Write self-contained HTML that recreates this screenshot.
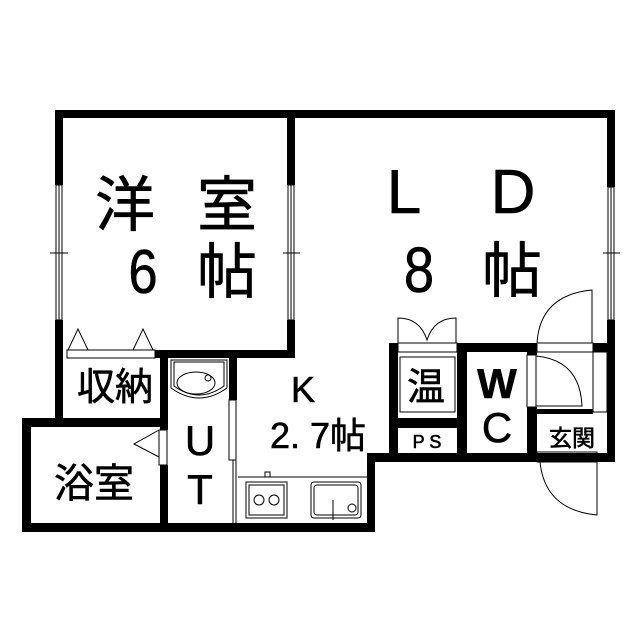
<!DOCTYPE html>
<html><head><meta charset="utf-8"><style>
html,body{margin:0;padding:0;background:#fff}
svg{display:block}
text{font-family:"Liberation Sans","Noto Sans CJK JP",sans-serif;fill:#000;stroke:#000;stroke-width:0.6}
</style></head><body>
<svg width="640" height="640" viewBox="0 0 640 640" xmlns="http://www.w3.org/2000/svg">
<rect width="640" height="640" fill="#fff"/>
<g fill="#000">
<rect x="55" y="110" width="560" height="8"/>
<rect x="55" y="110" width="8" height="75"/>
<rect x="55" y="320" width="8" height="106"/>
<rect x="287" y="110" width="8" height="75"/>
<rect x="287" y="320" width="8" height="38"/>
<rect x="155" y="350" width="140" height="8"/>
<rect x="229" y="350" width="8" height="50"/>
<rect x="160" y="350" width="8" height="80"/>
<rect x="160" y="465" width="8" height="60"/>
<rect x="22" y="418" width="146" height="9"/>
<rect x="22" y="418" width="9" height="114"/>
<rect x="22" y="523" width="353" height="9"/>
<rect x="367" y="453" width="8" height="79"/>
<rect x="367" y="453" width="248" height="9"/>
<rect x="607" y="110" width="8" height="77"/>
<rect x="607" y="320" width="8" height="142"/>
<rect x="389" y="343" width="9" height="9"/>
<rect x="457" y="343" width="80" height="9"/>
<rect x="593" y="343" width="22" height="9"/>
<rect x="389" y="343" width="9" height="119"/>
<rect x="397" y="418" width="65" height="10"/>
<rect x="457" y="343" width="10" height="119"/>
<rect x="527" y="343" width="10" height="12"/>
<rect x="527" y="407" width="10" height="55"/>
<rect x="537" y="409" width="56" height="5"/>
</g>
<g fill="none" stroke="#000" stroke-width="1">
<rect x="56" y="185" width="6" height="135"/><line x1="59" y1="185" x2="59" y2="320"/><line x1="50" y1="253" x2="68" y2="253"/>
<rect x="288" y="185" width="6" height="135"/><line x1="291" y1="185" x2="291" y2="320"/><line x1="283" y1="253" x2="300" y2="253"/>
<rect x="608" y="187" width="6" height="133"/><line x1="611" y1="187" x2="611" y2="320"/><line x1="603" y1="253" x2="620" y2="253"/>
<rect x="67" y="350" width="88" height="8"/>
<path d="M68 350 L78 329 L88 350 M133 350 L143 329 L153 350"/>
<path d="M171 360 H227 V388 Q199 408 171 388 Z"/>
<path d="M174 362 H224 V386 Q199 404 174 386 Z"/>
<ellipse cx="196" cy="383" rx="19" ry="11"/><circle cx="208" cy="378" r="3"/>
<rect x="229" y="400" width="7" height="60"/>
<line x1="233" y1="460" x2="233" y2="523"/><line x1="236" y1="460" x2="236" y2="523"/>
<rect x="159" y="430" width="8" height="35"/>
<path d="M159 430 L134 444 L159 457"/>
<line x1="238" y1="477" x2="367" y2="477"/>
<rect x="265" y="472" width="5" height="5"/>
<rect x="246" y="482" width="41" height="36"/><rect x="249" y="485" width="35" height="30"/>
<circle cx="259" cy="500" r="5"/><circle cx="274" cy="500" r="5"/>
<rect x="311" y="482" width="50" height="36" rx="3"/><rect x="314" y="485" width="44" height="30" rx="3"/>
<circle cx="352" cy="508" r="4"/><line x1="333" y1="500" x2="333" y2="520"/>
<rect x="398" y="343" width="59" height="9"/>
<path d="M398 343 V318 Q420 318 427 340 Q434 318 456 318 V343"/>
<rect x="400" y="357" width="55" height="55"/>
<rect x="537" y="343" width="56" height="9"/>
<path d="M592 343 V290 Q540 295 537 343"/>
<rect x="593" y="352" width="14" height="60"/>
<rect x="527" y="355" width="9" height="52"/>
<path d="M536 356 Q580 360 582 406 H536"/>
<rect x="537" y="452" width="60" height="10"/>
<path d="M597 462 V515 Q545 510 540 462"/>
</g>
<text x="125" y="226" font-size="60" text-anchor="middle">洋</text>
<text x="227" y="226" font-size="60" text-anchor="middle">室</text>
<text x="143" y="293" font-size="62" text-anchor="middle" transform="translate(143 0) scale(0.85 1) translate(-143 0)">6</text>
<text x="227" y="293" font-size="60" text-anchor="middle">帖</text>
<text x="404" y="213" font-size="62" text-anchor="middle">L</text>
<text x="513" y="213" font-size="62" text-anchor="middle">D</text>
<text x="419" y="292" font-size="64" text-anchor="middle" transform="translate(419 0) scale(0.85 1) translate(-419 0)">8</text>
<text x="512" y="292" font-size="60" text-anchor="middle">帖</text>
<text x="303" y="402" font-size="36" text-anchor="middle">K</text>
<text x="318" y="448" font-size="36" text-anchor="middle">2. 7帖</text>
<text x="115" y="400" font-size="38" text-anchor="middle">収納</text>
<text x="94" y="497" font-size="40" text-anchor="middle">浴室</text>
<text x="200" y="455" font-size="42" text-anchor="middle">U</text>
<text x="200" y="504" font-size="42" text-anchor="middle">T</text>
<text x="426" y="400" font-size="38" text-anchor="middle">温</text>
<text x="427" y="448" font-size="18" text-anchor="middle">P S</text>
<text x="497" y="398" font-size="42" font-weight="bold" text-anchor="middle">W</text>
<text x="497" y="442" font-size="42" text-anchor="middle">C</text>
<text x="572" y="446" font-size="23" text-anchor="middle">玄関</text>
</svg>
</body></html>
